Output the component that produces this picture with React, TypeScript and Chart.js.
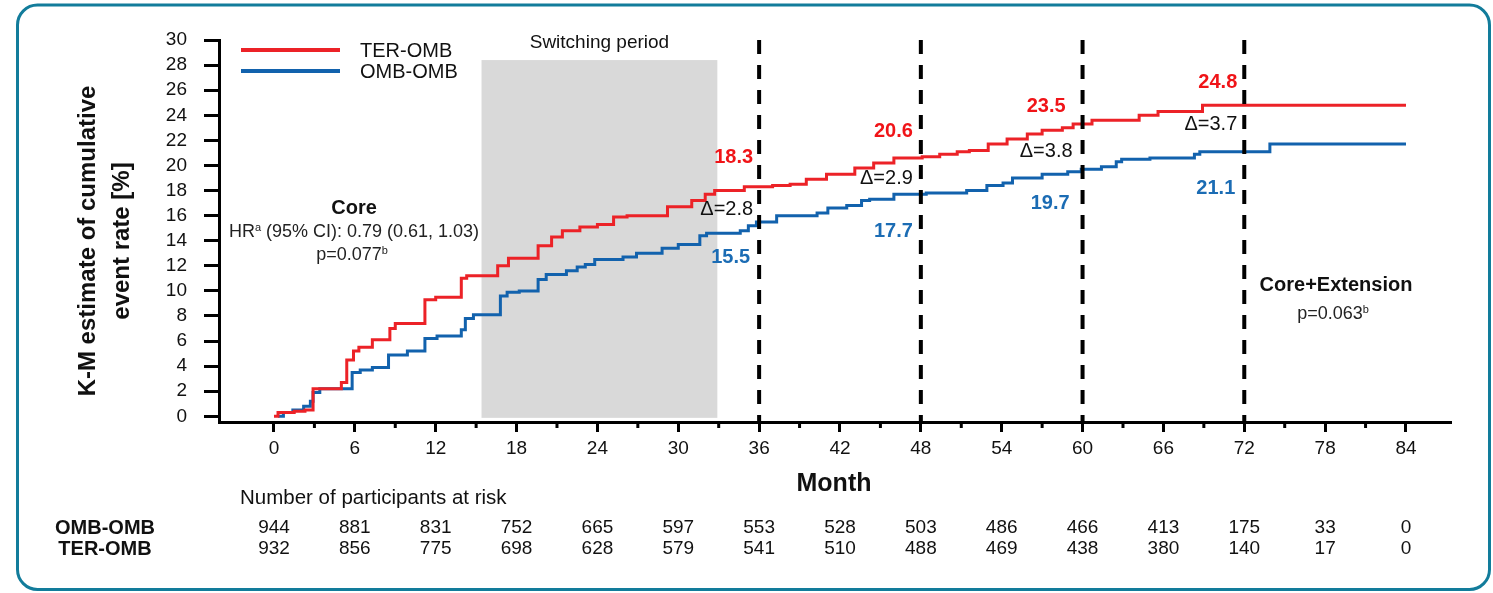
import React, { useEffect, useRef } from "react";
import { Chart, registerables } from "chart.js";

Chart.register(...registerables);

const FONT = "'Liberation Sans', Arial, Helvetica, sans-serif";

// ---- data ----
const terMonths = [0, 0.3, 1.5, 2.3, 2.9, 5.0, 5.4, 5.9, 6.3, 7.3, 8.6, 9.0, 11.2, 12.0, 13.9, 14.3, 16.6, 17.4, 19.6, 20.6, 21.4, 22.7, 24.0, 25.2, 26.2, 29.2, 31.0, 32.0, 32.7, 34.9, 37.0, 38.3, 39.5, 41.0, 43.1, 44.5, 46.0, 48.1, 49.4, 50.7, 51.6, 53.0, 54.4, 55.9, 57.0, 58.5, 59.3, 60.7, 64.2, 65.6, 68.9, 84.0];
const terRates = [0, 0.3, 0.4, 0.5, 2.2, 2.7, 4.5, 5.2, 5.5, 6.1, 7.0, 7.4, 9.3, 9.5, 11.0, 11.2, 12.0, 12.6, 13.6, 14.3, 14.8, 15.1, 15.3, 15.9, 16.0, 16.7, 17.2, 17.7, 18.0, 18.3, 18.4, 18.5, 18.9, 19.3, 19.8, 20.2, 20.6, 20.7, 20.9, 21.1, 21.2, 21.7, 22.1, 22.5, 22.8, 23.0, 23.3, 23.6, 24.0, 24.3, 24.8, 24.8];

const ombMonths = [0.3, 0.7, 1.4, 2.2, 2.7, 2.9, 3.4, 5.8, 6.4, 7.3, 8.5, 9.9, 11.2, 12.1, 13.9, 14.2, 14.8, 16.8, 17.3, 18.2, 19.6, 20.2, 21.7, 22.5, 23.1, 23.8, 25.9, 26.9, 28.8, 30.0, 31.6, 32.1, 34.6, 35.2, 35.8, 37.3, 40.3, 41.1, 42.5, 43.6, 44.2, 46.0, 48.4, 51.4, 52.9, 54.1, 54.8, 57.0, 58.9, 59.9, 61.4, 62.5, 62.9, 65.0, 68.3, 68.7, 73.9, 84.0];
const ombRates = [0, 0.3, 0.5, 0.8, 1.2, 1.9, 2.2, 3.5, 3.7, 3.9, 4.9, 5.2, 6.2, 6.4, 6.9, 7.8, 8.1, 9.6, 9.9, 10.0, 10.9, 11.3, 11.6, 11.9, 12.1, 12.5, 12.7, 13.0, 13.4, 13.7, 14.4, 14.6, 14.8, 15.2, 15.5, 16.0, 16.2, 16.6, 16.8, 17.2, 17.3, 17.7, 17.8, 18.0, 18.4, 18.6, 19.0, 19.3, 19.5, 19.7, 19.9, 20.3, 20.5, 20.6, 20.9, 21.1, 21.7, 21.7];

const yTicks = [0, 2, 4, 6, 8, 10, 12, 14, 16, 18, 20, 22, 24, 26, 28, 30];
const xTicks = [0, 6, 12, 18, 24, 30, 36, 42, 48, 54, 60, 66, 72, 78, 84];
const xMinorTicks = [3, 9, 15, 21, 27, 33, 39, 45, 51, 57, 63, 69, 75, 81];

const landmarkMonths = [36, 48, 60, 72];
const terAtLandmark = ["18.3", "20.6", "23.5", "24.8"];
const ombAtLandmark = ["15.5", "17.7", "19.7", "21.1"];
const deltaAtLandmark = ["2.8", "2.9", "3.8", "3.7"];

const switchPeriod = [15.4, 32.9];
const switchTop = 28.4;

const riskGroups = ["OMB-OMB", "TER-OMB"];
const riskOmb = [944, 881, 831, 752, 665, 597, 553, 528, 503, 486, 466, 413, 175, 33, 0];
const riskTer = [932, 856, 775, 698, 628, 579, 541, 510, 488, 469, 438, 380, 140, 17, 0];

// ---- layout / style (not data) ----
const RED = "#ec2227";
const BLUE = "#1262ad";
const RED_TXT = "#f01418";
const BLUE_TXT = "#1b6cb4";
// label placement: [y value for red, delta, blue], x offset px from dashed line (right edge)
const labelY = [
  [20.6, 16.5, 12.65],
  [22.7, 19.0, 14.7],
  [24.7, 21.1, 17.0],
  [26.6, 23.3, 18.2],
];
const labelDx = [
  [-6, -6, -9],
  [-8, -8, -8],
  [-17, -10, -13],
  [-7, -7, -9],
];

function font(size: number, bold = false) {
  return `${bold ? "bold " : ""}${size}px ${FONT}`;
}

function text(ctx: CanvasRenderingContext2D, s: string, x: number, y: number, f: string, color: string, align: CanvasTextAlign = "center") {
  ctx.save();
  ctx.font = f;
  ctx.fillStyle = color;
  ctx.textAlign = align;
  ctx.textBaseline = "middle";
  ctx.fillText(s, x, y);
  ctx.restore();
}

// parts: [string, isSuperscript]
function supText(ctx: CanvasRenderingContext2D, parts: [string, boolean][], cx: number, y: number, size: number, color: string) {
  ctx.save();
  ctx.fillStyle = color;
  ctx.textBaseline = "alphabetic";
  ctx.textAlign = "left";
  const supSize = Math.round(size * 0.62);
  let total = 0;
  const widths = parts.map(([s, sup]) => {
    ctx.font = font(sup ? supSize : size);
    const w = ctx.measureText(s).width;
    total += w;
    return w;
  });
  let x = cx - total / 2;
  const base = y + size * 0.36;
  parts.forEach(([s, sup], i) => {
    ctx.font = font(sup ? supSize : size);
    ctx.fillText(s, x, sup ? base - size * 0.38 : base);
    x += widths[i];
  });
  ctx.restore();
}

const decorPlugin = {
  id: "kmDecor",
  beforeDraw(chart: any) {
    const ctx: CanvasRenderingContext2D = chart.ctx;
    ctx.save();
    ctx.strokeStyle = "#127c9b";
    ctx.lineWidth = 3;
    ctx.beginPath();
    (ctx as any).roundRect(17.5, 5, 1472, 584.5, 20);
    ctx.stroke();
    ctx.restore();
  },
  beforeDatasetsDraw(chart: any) {
    const ctx: CanvasRenderingContext2D = chart.ctx;
    const xs = chart.scales.x;
    const ys = chart.scales.y;
    const x0 = xs.getPixelForValue(switchPeriod[0]);
    const x1 = xs.getPixelForValue(switchPeriod[1]);
    const yT = ys.getPixelForValue(switchTop);
    const yB = ys.getPixelForValue(0) + 1.5;
    ctx.save();
    ctx.fillStyle = "#d9d9d9";
    ctx.fillRect(x0, yT, x1 - x0, yB - yT);
    ctx.restore();
    text(ctx, "Switching period", (x0 + x1) / 2, 43, font(19), "#111");
  },
  afterDatasetsDraw(chart: any) {
    const ctx: CanvasRenderingContext2D = chart.ctx;
    const xs = chart.scales.x;
    const ys = chart.scales.y;
    const area = chart.chartArea;
    ctx.save();
    ctx.strokeStyle = "#000";
    ctx.lineWidth = 4;
    ctx.setLineDash([14, 11]);
    landmarkMonths.forEach((m) => {
      const x = xs.getPixelForValue(m);
      ctx.beginPath();
      ctx.moveTo(x, ys.getPixelForValue(30));
      ctx.lineTo(x, area.bottom);
      ctx.stroke();
    });
    ctx.setLineDash([]);
    // minor x ticks
    ctx.lineWidth = 3;
    xMinorTicks.forEach((m) => {
      const x = xs.getPixelForValue(m);
      ctx.beginPath();
      ctx.moveTo(x, area.bottom);
      ctx.lineTo(x, area.bottom + 6);
      ctx.stroke();
    });
    ctx.restore();
  },
  afterDraw(chart: any) {
    const ctx: CanvasRenderingContext2D = chart.ctx;
    const xs = chart.scales.x;
    const ys = chart.scales.y;

    // legend
    ctx.save();
    ctx.lineWidth = 4;
    ctx.strokeStyle = RED;
    ctx.beginPath();
    ctx.moveTo(241, 50);
    ctx.lineTo(340, 50);
    ctx.stroke();
    ctx.strokeStyle = BLUE;
    ctx.beginPath();
    ctx.moveTo(241, 71);
    ctx.lineTo(340, 71);
    ctx.stroke();
    ctx.restore();
    text(ctx, chart.data.datasets[0].label, 360, 51, font(20), "#111", "left");
    text(ctx, chart.data.datasets[1].label, 360, 72, font(20), "#111", "left");

    // landmark labels
    landmarkMonths.forEach((m, i) => {
      const lx = xs.getPixelForValue(m);
      text(ctx, terAtLandmark[i], lx + labelDx[i][0], ys.getPixelForValue(labelY[i][0]), font(20, true), RED_TXT, "right");
      text(ctx, "\u0394=" + deltaAtLandmark[i], lx + labelDx[i][1], ys.getPixelForValue(labelY[i][1]), font(20), "#111", "right");
      text(ctx, ombAtLandmark[i], lx + labelDx[i][2], ys.getPixelForValue(labelY[i][2]), font(20, true), BLUE_TXT, "right");
    });

    // Core stats
    text(ctx, "Core", 354, 208, font(20, true), "#111");
    supText(ctx, [["HR", false], ["a", true], [" (95% CI): 0.79 (0.61, 1.03)", false]], 354, 231, 18, "#222");
    supText(ctx, [["p=0.077", false], ["b", true]], 352, 254, 18, "#222");

    text(ctx, "Core+Extension", 1336, 285, font(20, true), "#111");
    supText(ctx, [["p=0.063", false], ["b", true]], 1333, 313, 18, "#222");

    // axis titles
    ctx.save();
    ctx.translate(88, 241);
    ctx.rotate(-Math.PI / 2);
    text(ctx, "K-M estimate of cumulative", 0, 0, font(24, true), "#111");
    ctx.restore();
    ctx.save();
    ctx.translate(122, 241);
    ctx.rotate(-Math.PI / 2);
    text(ctx, "event rate [%]", 0, 0, font(24, true), "#111");
    ctx.restore();

    text(ctx, "Month", 834, 484, font(25, true), "#111");

    // risk table
    text(ctx, "Number of participants at risk", 240, 498, font(20.5), "#111", "left");
    text(ctx, riskGroups[0], 105, 528, font(20, true), "#111");
    text(ctx, riskGroups[1], 105, 549, font(20, true), "#111");
    xTicks.forEach((m, i) => {
      const x = xs.getPixelForValue(m);
      text(ctx, String(riskOmb[i]), x, 528, font(19), "#111");
      text(ctx, String(riskTer[i]), x, 549, font(19), "#111");
    });
  },
};

export default function App() {
  const ref = useRef<HTMLCanvasElement | null>(null);
  useEffect(() => {
    if (!ref.current) return;
    const chart = new Chart(ref.current, {
      type: "line",
      data: {
        datasets: [
          {
            label: "TER-OMB",
            data: terMonths.map((m, i) => ({ x: m, y: terRates[i] })),
            borderColor: RED,
            borderWidth: 3,
            stepped: "before",
            pointRadius: 0,
            fill: false,
          },
          {
            label: "OMB-OMB",
            data: ombMonths.map((m, i) => ({ x: m, y: ombRates[i] })),
            borderColor: BLUE,
            borderWidth: 3,
            stepped: "before",
            pointRadius: 0,
            fill: false,
          },
        ],
      },
      options: {
        animation: false,
        responsive: false,
        maintainAspectRatio: false,
        layout: { padding: { left: 0, right: 42, top: 40, bottom: 0 } },
        plugins: { legend: { display: false }, tooltip: { enabled: false }, title: { display: false } },
        scales: {
          x: {
            type: "linear",
            min: -4.08,
            max: 87.34,
            afterBuildTicks: (s: any) => {
              s.ticks = xTicks.map((v) => ({ value: v }));
            },
            afterFit: (s: any) => {
              s.height = 171;
            },
            ticks: {
              autoSkip: false,
              maxRotation: 0,
              padding: 5,
              color: "#111",
              font: { family: FONT, size: 19 },
              callback: (v: any) => String(v),
            },
            grid: { drawOnChartArea: false, drawTicks: true, tickLength: 10, tickWidth: 3, tickColor: "#000" },
            border: { display: true, width: 3, color: "#000" },
          },
          y: {
            type: "linear",
            min: -0.45,
            max: 30,
            afterBuildTicks: (s: any) => {
              s.ticks = yTicks.map((v) => ({ value: v }));
            },
            afterFit: (s: any) => {
              s.width = 219;
            },
            ticks: {
              autoSkip: false,
              padding: 17,
              color: "#111",
              font: { family: FONT, size: 19 },
              callback: (v: any) => String(v),
            },
            grid: { drawOnChartArea: false, drawTicks: true, tickLength: 15, tickWidth: 3, tickColor: "#000" },
            border: { display: true, width: 3, color: "#000" },
          },
        },
      },
      plugins: [decorPlugin],
    });
    return () => chart.destroy();
  }, []);

  return (
    <div style={{ position: "fixed", left: 0, top: 0, width: 1493, height: 593, background: "#fff" }}>
      <canvas ref={ref} width={1493} height={593} style={{ width: 1493, height: 593, display: "block" }} />
    </div>
  );
}
